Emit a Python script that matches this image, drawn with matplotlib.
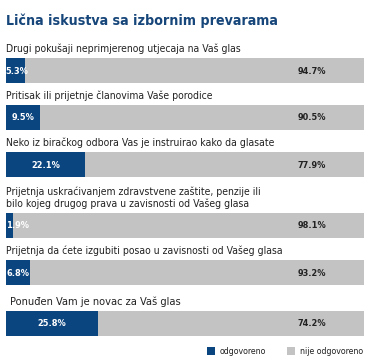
import matplotlib.pyplot as plt

title = "Lična iskustva sa izbornim prevarama"
labels = [
    "Drugi pokušaji neprimjerenog utjecaja na Vaš glas",
    "Pritisak ili prijetnje članovima Vaše porodice",
    "Neko iz biračkog odbora Vas je instruirao kako da glasate",
    "Prijetnja uskraćivanjem zdravstvene zaštite, penzije ili\nbilo kojeg drugog prava u zavisnosti od Vašeg glasa",
    "Prijetnja da ćete izgubiti posao u zavisnosti od Vašeg glasa",
    "Ponuđen Vam je novac za Vaš glas",
]
odgovoreno = [5.3, 9.5, 22.1, 1.9, 6.8, 25.8]
nije = [94.7, 90.5, 77.9, 98.1, 93.2, 74.2]
legend_names = ["odgovoreno", "nije odgovoreno"]

BLUE = "#0b457f"
GREY = "#c3c3c3"
TITLE_C = "#17467a"
TXT = "#222222"

W, H = 377, 361
fig = plt.figure(figsize=(W / 100, H / 100), dpi=100)
fig.patch.set_facecolor("white")

# axes for bars: x in percent, y in pixels from the top
left_px, right_px = 6, 364
ax = fig.add_axes([left_px / W, 0, (right_px - left_px) / W, 1])
ax.set_xlim(0, 100)
ax.set_ylim(H, 0)
ax.axis("off")

bar_h = 25
tops = []
y = 58
for i, lab in enumerate(labels):
    tops.append(y)
    nxt = 47
    if i + 1 < len(labels):
        nxt += 14 * labels[i + 1].count("\n")
        if i + 1 == len(labels) - 1:
            nxt += 4
    y += nxt

font = "DejaVu Sans"
for i, lab in enumerate(labels):
    t = tops[i]
    c = t + bar_h / 2
    ax.barh(c, odgovoreno[i], height=bar_h, left=0, color=BLUE, lw=0)
    ax.barh(c, nije[i], height=bar_h, left=odgovoreno[i], color=GREY, lw=0)
    last = i == len(labels) - 1
    ax.text(0 if not last else 1, t - 6, lab, ha="left", va="baseline",
            fontsize=7.9 if last else 7.5, color=TXT, family=font,
            fontstretch="condensed", linespacing=1.2)
    bx = max(odgovoreno[i] / 2, 3.1)
    ax.text(bx, c + 0.5, "%.1f%%" % odgovoreno[i], ha="center", va="center",
            fontsize=6.6, fontweight="bold", color="white", family=font,
            fontstretch="condensed")
    ax.text(85.5, c + 0.5, "%.1f%%" % nije[i], ha="center", va="center",
            fontsize=6.6, fontweight="bold", color=TXT, family=font,
            fontstretch="condensed")

fig.text(6 / W, 1 - 25 / H, title, ha="left", va="baseline", fontsize=10.2,
         fontweight="bold", color=TITLE_C, family=font, fontstretch="condensed")

# legend
lx = [207, 287]
for k, (name, col) in enumerate(zip(legend_names, [BLUE, GREY])):
    fig.patches.append(plt.Rectangle((lx[k] / W, 1 - 355 / H), 8 / W, 8 / H,
                                     transform=fig.transFigure, color=col, lw=0))
    fig.text((lx[k] + 13) / W, 1 - 354.5 / H, name, ha="left", va="baseline",
             fontsize=6.3, color=TXT, family=font, fontstretch="condensed")

fig.savefig("out.png", dpi=100)
